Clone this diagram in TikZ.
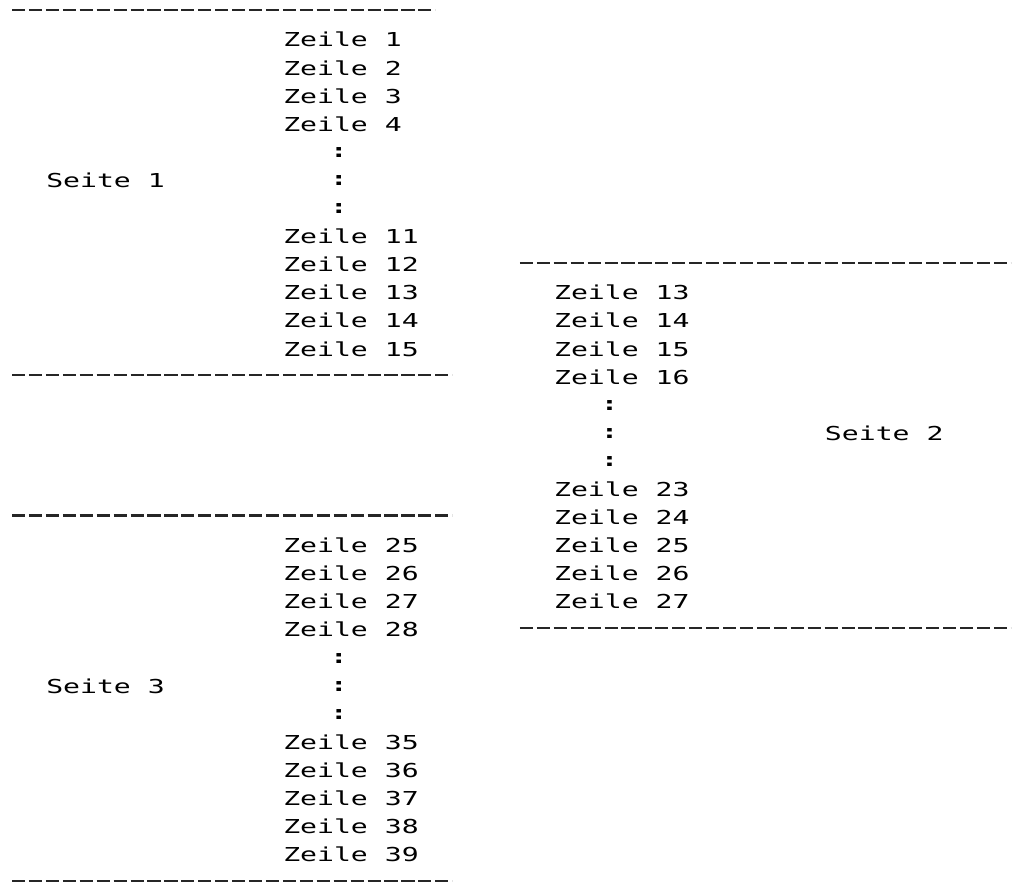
\documentclass[tikz,border=0pt]{standalone}
\usepackage{fontspec}
\newfontfamily\zfont[FakeStretch=1.465]{DejaVu Sans Mono}
\newfontfamily\zfontbf[FakeStretch=1.465]{DejaVu Sans Mono Bold}
\tikzset{
	zeile/.style={anchor=west, inner sep=0pt, text height=7pt, text depth=0pt, font=\zfont\fontsize{9.6pt}{11pt}\selectfont},
	punkte/.style={anchor=center, inner sep=0pt, font=\zfontbf\fontsize{9.6pt}{11pt}\selectfont},
	trenner/.style={line width=1.1pt, black!85, dash pattern=on 6.6pt off 1.866pt, yshift=1pt}
}
\begin{document}
\begin{tikzpicture}[x=8.466pt, y=-14.05pt]
	\useasboundingbox (-0.709,-0.4235) rectangle (59.78,31.356);
	\draw[trenner] (0,0)--(25,0);
	\node[zeile] (p1z1) at (16, 1) {Zeile 1};
	\node[zeile] (p1z2) at (16, 2) {Zeile 2};
	\node[zeile] (p1z3) at (16, 3) {Zeile 3};
	\node[zeile] (p1z4) at (16, 4) {Zeile 4};
	\node[punkte] (p1d1) at (19.3, 5) {:};
	\node[punkte] (p1d2) at (19.3, 6) {:};
	\node[punkte] (p1d3) at (19.3, 7) {:};
	\node[zeile] (seite1) at (2, 6) {Seite 1};
	\node[zeile] (p1z11) at (16, 8) {Zeile 11};
	\node[zeile] (p1z12) at (16, 9) {Zeile 12};
	\node[zeile] (p1z13) at (16, 10) {Zeile 13};
	\node[zeile] (p1z14) at (16, 11) {Zeile 14};
	\node[zeile] (p1z15) at (16, 12) {Zeile 15};
	\draw[trenner] (0,13)--(26,13);

	\draw[trenner] (30,9)--(59,9);
	\node[zeile] (p2z13) at (32, 10) {Zeile 13};
	\node[zeile] (p2z14) at (32, 11) {Zeile 14};
	\node[zeile] (p2z15) at (32, 12) {Zeile 15};
	\node[zeile] (p2z16) at (32, 13) {Zeile 16};
	\node[punkte] (p2d1) at (35.3, 14) {:};
	\node[punkte] (p2d2) at (35.3, 15) {:};
	\node[punkte] (p2d3) at (35.3, 16) {:};
	\node[zeile] (seite2) at (48, 15) {Seite 2};
	\node[zeile] (p2z23) at (32, 17) {Zeile 23};
	\node[zeile] (p2z24) at (32, 18) {Zeile 24};
	\node[zeile] (p2z25) at (32, 19) {Zeile 25};
	\node[zeile] (p2z26) at (32, 20) {Zeile 26};
	\node[zeile] (p2z27) at (32, 21) {Zeile 27};
	\draw[trenner] (30,22)--(59,22);

	\draw[trenner] (0,18)--(26,18);
	\node[zeile] (p3z25) at (16, 19) {Zeile 25};
	\node[zeile] (p3z26) at (16, 20) {Zeile 26};
	\node[zeile] (p3z27) at (16, 21) {Zeile 27};
	\node[zeile] (p3z28) at (16, 22) {Zeile 28};
	\node[punkte] (p3d1) at (19.3, 23) {:};
	\node[punkte] (p3d2) at (19.3, 24) {:};
	\node[punkte] (p3d3) at (19.3, 25) {:};
	\node[zeile] (seite3) at (2, 24) {Seite 3};
	\node[zeile] (p3z35) at (16, 26) {Zeile 35};
	\node[zeile] (p3z36) at (16, 27) {Zeile 36};
	\node[zeile] (p3z37) at (16, 28) {Zeile 37};
	\node[zeile] (p3z38) at (16, 29) {Zeile 38};
	\node[zeile] (p3z39) at (16, 30) {Zeile 39};
	\draw[trenner] (0,31)--(26,31);
\end{tikzpicture}
\end{document}
